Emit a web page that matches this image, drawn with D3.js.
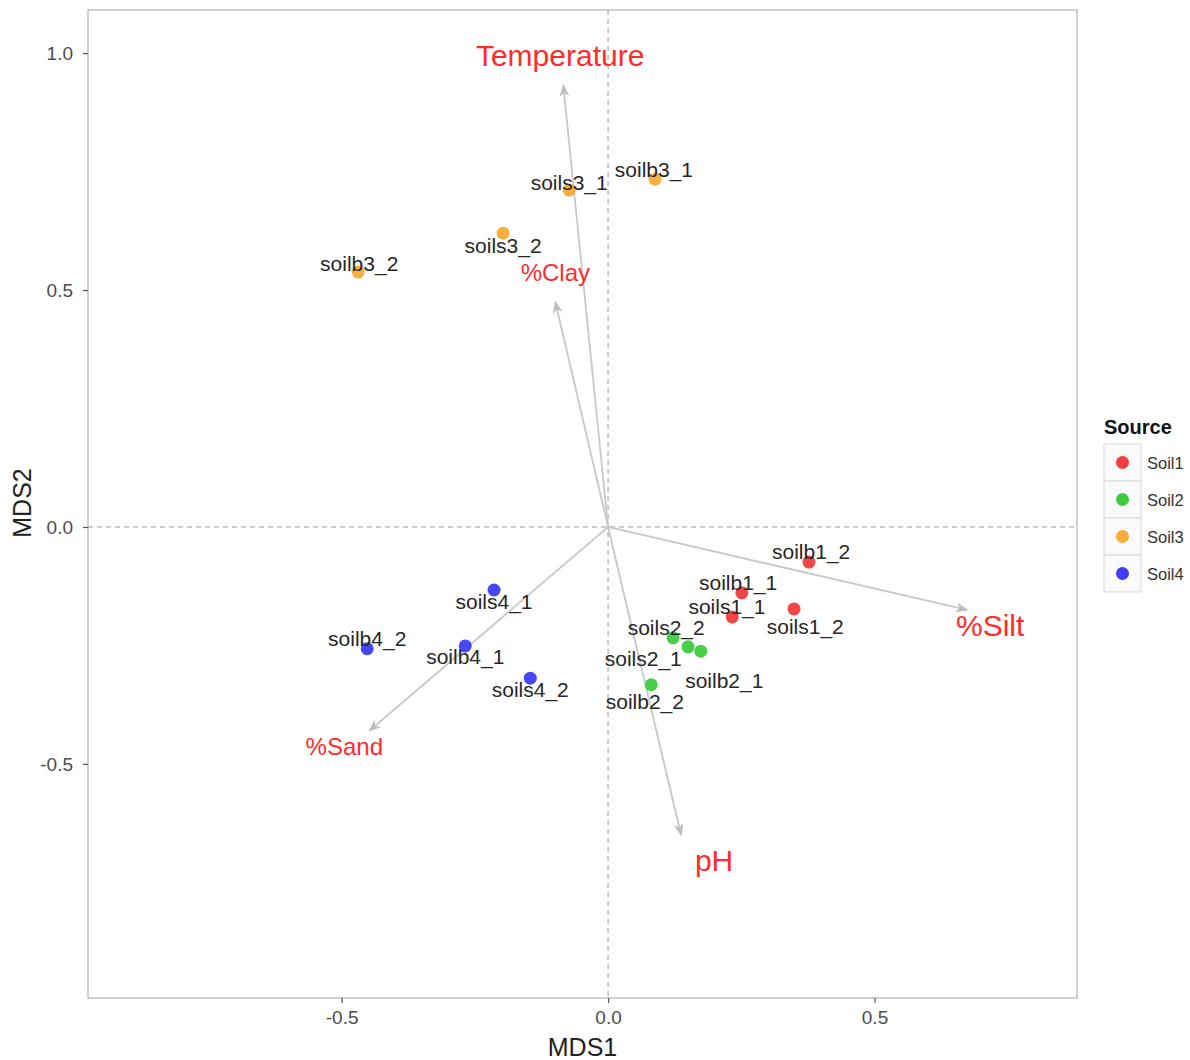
<!DOCTYPE html>
<html>
<head>
<meta charset="utf-8">
<script src="https://cdn.jsdelivr.net/npm/d3@7"></script>
<style>
  body { margin: 0; background: #fff; }
  text { font-family: "Liberation Sans", Arial, sans-serif; }
</style>
</head>
<body>
<div id="chart"></div>
<script>
// sample scores (MDS1, MDS2) and where their labels sit
const samples = ["soilb3_2", "soils3_1", "soilb3_1", "soils3_2",
  "soilb1_2", "soilb1_1", "soils1_1", "soils1_2",
  "soils2_2", "soils2_1", "soilb2_1", "soilb2_2",
  "soils4_1", "soilb4_1", "soilb4_2", "soils4_2"];
const source = ["Soil3", "Soil3", "Soil3", "Soil3",
  "Soil1", "Soil1", "Soil1", "Soil1",
  "Soil2", "Soil2", "Soil2", "Soil2",
  "Soil4", "Soil4", "Soil4", "Soil4"];
const mds1 = [-0.469, -0.073, 0.088, -0.197,
  0.377, 0.251, 0.233, 0.349,
  0.122, 0.150, 0.174, 0.081,
  -0.214, -0.268, -0.452, -0.146];
const mds2 = [0.538, 0.711, 0.734, 0.620,
  -0.074, -0.139, -0.190, -0.173,
  -0.234, -0.253, -0.262, -0.333,
  -0.133, -0.251, -0.257, -0.319];
const labX = [-0.467, -0.073, 0.086, -0.197,
  0.381, 0.244, 0.223, 0.370,
  0.109, 0.066, 0.218, 0.069,
  -0.214, -0.268, -0.452, -0.146];
const labY = [0.555, 0.728, 0.755, 0.593,
  -0.051, -0.118, -0.167, -0.211,
  -0.213, -0.278, -0.323, -0.369,
  -0.158, -0.274, -0.236, -0.344];

// environmental vectors
const envNames = ["Temperature", "%Clay", "%Silt", "%Sand", "pH"];
const envX = [-0.084, -0.099, 0.674, -0.448, 0.137];
const envY = [0.932, 0.475, -0.175, -0.430, -0.650];
const envLabX = [-0.090, -0.099, 0.717, -0.495, 0.199];
const envLabY = [0.996, 0.536, -0.207, -0.464, -0.703];
const envBig = [true, false, true, false, true];

const sources = ["Soil1", "Soil2", "Soil3", "Soil4"];
const xTicks = [-0.5, 0.0, 0.5];
const yTicks = [-0.5, 0.0, 0.5, 1.0];

const width = 1190, height = 1060;
const panel = { left: 88, right: 1077, top: 10, bottom: 998 };

const svg = d3.select("#chart").append("svg")
  .attr("width", width).attr("height", height);

const x = d3.scaleLinear().domain([-0.976, 0.880]).range([panel.left, panel.right]);
const y = d3.scaleLinear().domain([-0.994, 1.091]).range([panel.bottom, panel.top]);
const color = d3.scaleOrdinal().domain(sources)
  .range(["#f23d3d", "#3dcc3d", "#f7ab3a", "#3d3df5"]);

// panel border
svg.append("rect")
  .attr("x", panel.left).attr("y", panel.top)
  .attr("width", panel.right - panel.left).attr("height", panel.bottom - panel.top)
  .attr("fill", "#fff").attr("stroke", "#b3b3b3").attr("stroke-width", 1.2);

// axes (plain hyphen minus like the original)
const fmt = d3.formatLocale({ decimal: ".", thousands: ",", grouping: [3], currency: ["", ""], minus: "-" }).format(".1f");
const gx = svg.append("g").attr("transform", `translate(0,${panel.bottom})`)
  .call(d3.axisBottom(x).tickValues(xTicks).tickFormat(fmt).tickSize(5).tickPadding(8));
const gy = svg.append("g").attr("transform", `translate(${panel.left},0)`)
  .call(d3.axisLeft(y).tickValues(yTicks).tickFormat(fmt).tickSize(5).tickPadding(10));
[gx, gy].forEach(g => {
  g.select(".domain").remove();
  g.selectAll("line").attr("stroke", "#555").attr("stroke-width", 1.2);
  g.selectAll("text").attr("fill", "#4d4d4d").style("font-size", "19px")
    .style("font-family", "'Liberation Sans', Arial, sans-serif");
});

svg.append("text").attr("x", (panel.left + panel.right) / 2).attr("y", 1056)
  .attr("text-anchor", "middle").style("font-size", "25px").attr("fill", "#222").text("MDS1");
svg.append("text").attr("transform", `translate(31,${(panel.top + panel.bottom) / 2 - 1})rotate(-90)`)
  .attr("text-anchor", "middle").style("font-size", "25px").attr("fill", "#222").text("MDS2");

// zero lines
svg.append("line").attr("x1", x(0)).attr("x2", x(0)).attr("y1", panel.top).attr("y2", panel.bottom)
  .attr("stroke", "#999").attr("stroke-dasharray", "5,4");
svg.append("line").attr("x1", panel.left).attr("x2", panel.right).attr("y1", y(0)).attr("y2", y(0))
  .attr("stroke", "#999").attr("stroke-dasharray", "5,4");

// arrows
svg.append("defs").append("marker")
  .attr("id", "arr").attr("viewBox", "0 0 10 10").attr("refX", 9).attr("refY", 5)
  .attr("markerWidth", 7).attr("markerHeight", 7).attr("orient", "auto")
  .append("path").attr("d", "M0,1 L10,5 L0,9 L3,5 Z").attr("fill", "#bdbdbd");

const env = envNames.map((n, i) => ({ name: n, x: envX[i], y: envY[i], lx: envLabX[i], ly: envLabY[i], big: envBig[i] }));
svg.selectAll(".vec").data(env).enter().append("line")
  .attr("x1", x(0)).attr("y1", y(0))
  .attr("x2", d => x(d.x)).attr("y2", d => y(d.y))
  .attr("stroke", "#c8c8c8").attr("stroke-width", 1.8)
  .attr("marker-end", "url(#arr)");

// sample points
const pts = samples.map((s, i) => ({ name: s, src: source[i], x: mds1[i], y: mds2[i], lx: labX[i], ly: labY[i] }));
svg.selectAll(".pt").data(pts).enter().append("circle")
  .attr("cx", d => x(d.x)).attr("cy", d => y(d.y)).attr("r", 6.5)
  .attr("fill", d => color(d.src)).attr("opacity", 0.95);

svg.selectAll(".lab").data(pts).enter().append("text")
  .attr("x", d => x(d.lx)).attr("y", d => y(d.ly))
  .attr("text-anchor", "middle").attr("dominant-baseline", "central")
  .style("font-size", "21px").attr("fill", "#262626").text(d => d.name);

svg.selectAll(".envlab").data(env).enter().append("text")
  .attr("x", d => x(d.lx)).attr("y", d => y(d.ly))
  .attr("text-anchor", "middle").attr("dominant-baseline", "central")
  .style("font-size", d => d.big ? "30px" : "24px")
  .attr("fill", "#ff2b2b").text(d => d.name);

// legend
const leg = svg.append("g").attr("transform", "translate(1104,0)");
leg.append("text").attr("x", 0).attr("y", 434).style("font-size", "20px")
  .style("font-weight", "bold").attr("fill", "#111").text("Source");
const keys = leg.selectAll(".key").data(sources).enter().append("g")
  .attr("transform", (d, i) => `translate(0,${444 + i * 37})`);
keys.append("rect").attr("width", 37).attr("height", 37)
  .attr("fill", "#fafafa").attr("stroke", "#d9d9d9");
keys.append("circle").attr("cx", 18.5).attr("cy", 18.5).attr("r", 6.5)
  .attr("fill", d => color(d));
keys.append("text").attr("x", 43).attr("y", 18.5).attr("dominant-baseline", "central")
  .style("font-size", "16.5px").attr("fill", "#333").text(d => d);
</script>
</body>
</html>
